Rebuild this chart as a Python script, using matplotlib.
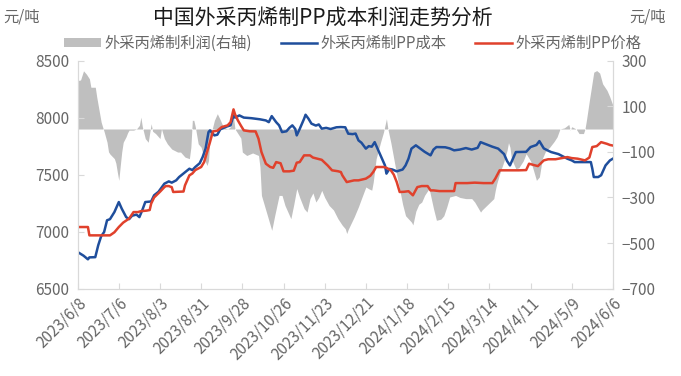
import numpy as np
import pandas as pd
import matplotlib
matplotlib.use("Agg")
import matplotlib.pyplot as plt
import matplotlib.patches as mpatches
from matplotlib.lines import Line2D

plt.rcParams['font.family'] = ['Noto Sans CJK SC', 'DejaVu Sans']

# --- data ---
START = pd.Timestamp("2023-06-08")

cost_days = [0, 4, 7, 8, 12, 14, 16, 18, 20, 22, 25, 28, 30, 33, 35, 37, 40, 42, 44, 46,
             50, 52, 55, 59, 62, 64, 67, 69, 72, 76, 78, 80, 83, 85, 87, 89, 90, 93, 95, 97,
             101, 104, 106, 107, 110, 113, 118, 121, 124, 128, 130, 132, 135, 137, 139, 142,
             144, 146, 148, 149, 151, 154, 155, 157, 159, 162, 164, 166, 169, 172, 176, 179,
             182, 184, 187, 189, 191, 193, 196, 198, 200, 202, 205, 207, 209, 210, 212, 214,
             217, 221, 223, 225, 227, 230, 233, 236, 240, 242, 244, 250, 253, 256, 260, 264,
             268, 272, 274, 277, 282, 286, 290, 292, 294, 296, 298, 303, 305, 308, 312, 314,
             317, 320, 322, 327, 333, 336, 338, 345, 349, 350, 351, 354, 356, 359, 362, 364]
cost = [6822, 6790, 6758, 6775, 6777, 6881, 6960, 6997, 7100, 7110, 7172, 7260, 7202, 7128,
        7110, 7140, 7150, 7128, 7190, 7260, 7265, 7319, 7350, 7421, 7441, 7430, 7450, 7479,
        7510, 7552, 7540, 7567, 7600, 7654, 7728, 7873, 7888, 7844, 7850, 7897, 7920, 7932,
        8019, 8000, 8019, 8000, 7995, 7990, 7985, 7975, 7960, 8013, 7960, 7932, 7873, 7880,
        7910, 7932, 7900, 7844, 7900, 7990, 8025, 7990, 7947, 7930, 7940, 7903, 7910, 7900,
        7915, 7917, 7915, 7859, 7855, 7860, 7800, 7780, 7728, 7750, 7745, 7785, 7698, 7640,
        7581, 7509, 7550, 7545, 7529, 7545, 7581, 7640, 7728, 7757, 7728, 7700, 7669, 7720,
        7742, 7740, 7730, 7713, 7720, 7733, 7720, 7735, 7785, 7770, 7745, 7728, 7680, 7620,
        7581, 7640, 7698, 7700, 7700, 7742, 7760, 7794, 7730, 7710, 7698, 7680, 7640, 7625,
        7610, 7610, 7610, 7552, 7479, 7479, 7495, 7581, 7625, 7640]

price_days = [0, 7, 8, 22, 25, 28, 31, 35, 38, 41, 43, 47, 49, 50, 52, 56, 59, 60, 62, 64,
              65, 68, 72, 73, 76, 78, 80, 84, 86, 88, 90, 92, 95, 98, 102, 104, 106, 107, 109,
              111, 113, 117, 121, 123, 125, 128, 131, 133, 135, 138, 140, 144, 147, 149, 151,
              154, 158, 160, 163, 166, 170, 173, 177, 179, 180, 183, 188, 191, 196, 199, 201,
              203, 208, 210, 213, 215, 217, 219, 222, 225, 228, 231, 234, 238, 240, 242, 246,
              250, 256, 257, 265, 270, 276, 282, 284, 287, 295, 300, 305, 307, 310, 313, 317,
              320, 325, 333, 336, 340, 345, 348, 350, 353, 356, 360, 362, 364]
price = [7041, 7041, 6968, 6968, 6995, 7041, 7080, 7115, 7172, 7172, 7180, 7185, 7190, 7246,
         7300, 7350, 7391, 7400, 7400, 7390, 7348, 7350, 7352, 7406, 7494, 7510, 7540, 7567,
         7610, 7698, 7785, 7879, 7885, 7917, 7932, 7960, 8072, 8030, 7975, 7930, 7888, 7880,
         7879, 7815, 7698, 7596, 7567, 7560, 7610, 7600, 7529, 7529, 7535, 7605, 7610, 7669,
         7669, 7650, 7640, 7630, 7581, 7538, 7530, 7523, 7494, 7435, 7450, 7450, 7465, 7490,
         7523, 7567, 7567, 7560, 7538, 7500, 7435, 7348, 7350, 7355, 7319, 7391, 7400, 7400,
         7362, 7362, 7356, 7356, 7356, 7426, 7426, 7430, 7426, 7426, 7465, 7538, 7538, 7538,
         7540, 7596, 7585, 7575, 7625, 7635, 7635, 7654, 7645, 7640, 7625, 7650, 7742, 7750,
         7785, 7770, 7760, 7755]

profit_days = [0, 2, 4, 6, 8, 9, 12, 13, 14, 16, 17, 18, 20, 21, 22, 25, 26, 27, 28, 29, 30,
               31, 33, 34, 35, 38, 40, 42, 43, 44, 46, 48, 50, 51, 53, 56, 57, 59, 61, 64, 68,
               70, 73, 76, 77, 78, 79, 80, 82, 84, 86, 88, 89, 90, 93, 95, 97, 99, 102, 104,
               106, 107, 111, 112, 115, 119, 123, 124, 125, 129, 132, 134, 137, 139, 141, 145,
               147, 149, 151, 154, 156, 158, 160, 162, 164, 166, 168, 171, 174, 177, 180, 182,
               183, 184, 188, 191, 193, 196, 198, 200, 201, 203, 206, 208, 210, 211, 213, 215,
               217, 219, 221, 223, 227, 228, 230, 232, 234, 236, 239, 240, 242, 244, 247, 249,
               251, 253, 257, 260, 264, 268, 270, 272, 274, 275, 279, 283, 284, 285, 287, 290,
               292, 293, 294, 295, 298, 300, 303, 305, 308, 310, 312, 314, 316, 318, 321, 324,
               326, 328, 331, 334, 335, 336, 339, 341, 344, 345, 346, 348, 351, 353, 355, 357,
               360, 362, 364]
profit = [212, 215, 255, 240, 220, 183, 183, 140, 103, 30, 9, -11, -58, -100, -110, -130,
          -150, -189, -225, -160, -100, -58, -33, -16, -5, -5, 0, 16, 52, 10, -42, -58, 23,
          -10, -20, -42, 1, -42, -65, -88, -101, -101, -123, -130, -80, 38, 38, 10, -65, -80,
          -130, -160, -138, -40, 38, 67, 40, 10, 0, 10, 52, 0, -40, -101, -116, -105, -116,
          -167, -291, -378, -444, -380, -291, -291, -335, -393, -330, -261, -300, -349, -364,
          -305, -280, -320, -300, -269, -300, -335, -355, -393, -422, -437, -458, -440, -386,
          -340, -305, -254, -262, -268, -233, -130, -58, -14, 45, 0, -60, -130, -200, -265,
          -330, -380, -408, -420, -360, -330, -320, -290, -261, -290, -349, -400, -395, -380,
          -342, -298, -291, -300, -305, -305, -320, -342, -364, -355, -330, -305, -269, -240,
          -196, -140, -94, -60, -80, -130, -174, -170, -140, -108, -140, -181, -225, -210,
          -130, -100, -80, -55, -35, 0, 5, 20, -5, 10, 0, -20, -20, 0, 38, 125, 249, 256, 245,
          198, 169, 139, 103]

tick_labels = ["2023/6/8", "2023/7/6", "2023/8/3", "2023/8/31", "2023/9/28", "2023/10/26",
               "2023/11/23", "2023/12/21", "2024/1/18", "2024/2/15", "2024/3/14", "2024/4/11",
               "2024/5/9", "2024/6/6"]

# --- styles ---
BLUE = "#1f4e9c"
RED = "#e0412c"
GRAY_FILL = "#bfbfbf"
TXT = "#666666"
AXIS = "#d9d9d9"


def to_dates(days):
    return START + pd.to_timedelta(days, unit="D")


fig = plt.figure(figsize=(6.81, 3.76), dpi=100)
ax1 = fig.add_axes([0.114, 0.232, 0.786, 0.607])
ax2 = ax1.twinx()

ax2.fill_between(to_dates(profit_days), profit, 0, color=GRAY_FILL, linewidth=0)
ax1.plot(to_dates(cost_days), cost, color=BLUE, lw=1.8)
ax1.plot(to_dates(price_days), price, color=RED, lw=1.8)

ax1.set_zorder(ax2.get_zorder() + 1)
ax1.patch.set_visible(False)

ax1.set_ylim(6500, 8500)
ax1.set_yticks(np.arange(6500, 8501, 500))
ax2.set_ylim(-700, 300)
ax2.set_yticks(np.arange(-700, 301, 200))

tick_dates = pd.to_datetime(tick_labels, format="%Y/%m/%d")
ax1.set_xlim(tick_dates[0], tick_dates[-1])
ax1.set_xticks(tick_dates)
ax1.set_xticklabels(tick_labels, rotation=45, ha="right", va="top",
                    rotation_mode="anchor", fontsize=10.5, color=TXT)

for ax in (ax1, ax2):
    ax.spines["top"].set_visible(False)
    for side in ("left", "right", "bottom"):
        ax.spines[side].set_color(AXIS)
    ax.tick_params(direction="in", length=4, color=AXIS, labelsize=11, labelcolor=TXT)
ax1.tick_params(axis="y", pad=6)
ax2.tick_params(axis="y", pad=6)
ax1.tick_params(axis="x", pad=4)

# --- title, units, legend ---
fig.text(0.474, 0.95, "中国外采丙烯制PP成本利润走势分析", ha="center", va="center",
         fontsize=15, color="#1a1a1a")
fig.text(0.005, 0.955, "元/吨", ha="left", va="center", fontsize=11, color=TXT)
fig.text(0.978, 0.955, "元/吨", ha="right", va="center", fontsize=11, color=TXT)

handles = [
    mpatches.Patch(facecolor=GRAY_FILL, edgecolor="none", label="外采丙烯制利润(右轴)"),
    Line2D([], [], color=BLUE, lw=1.8, label="外采丙烯制PP成本"),
    Line2D([], [], color=RED, lw=1.8, label="外采丙烯制PP价格"),
]
leg = fig.legend(handles=handles, loc="center", bbox_to_anchor=(0.518, 0.885), ncol=3,
                 frameon=False, fontsize=11, handlelength=2.4, handleheight=0.5,
                 handletextpad=0.2, columnspacing=1.9, borderpad=0)
for t in leg.get_texts():
    t.set_color(TXT)

fig.savefig("out.png", dpi=100)
